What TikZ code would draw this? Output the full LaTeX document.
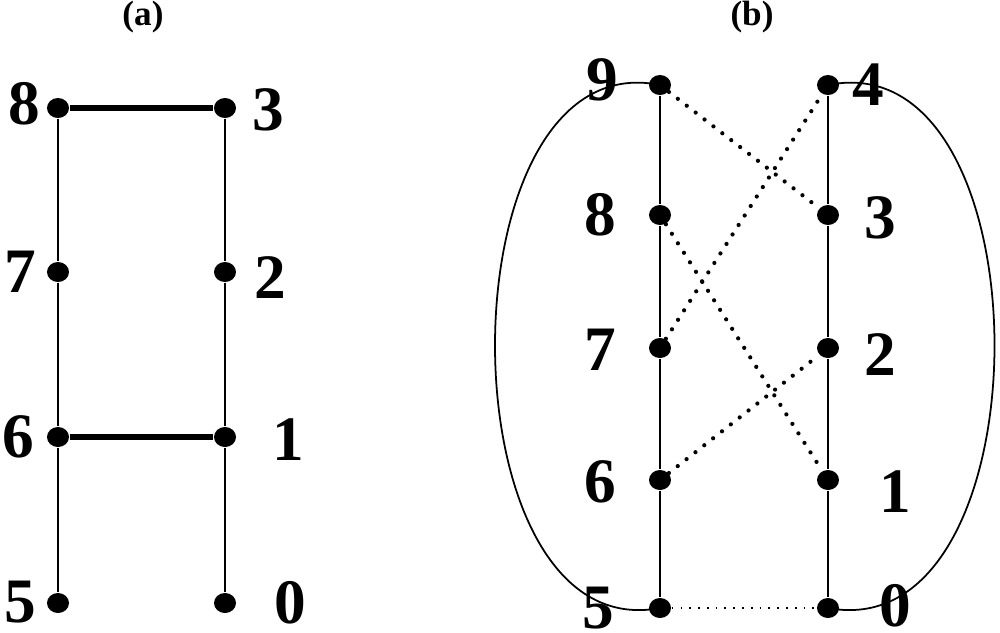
\documentclass[tikz,border=0pt]{standalone}
\usepackage{fontspec}
\usetikzlibrary{shapes.geometric}
\setmainfont{Liberation Serif}
\begin{document}
\begin{tikzpicture}[x=0.01cm,y=-0.01cm,
  dot/.style={ellipse,fill=black,inner sep=0pt,minimum width=0.22cm,minimum height=0.20cm},
  lab/.style={font=\fontsize{18}{18}\selectfont\bfseries,inner sep=0pt},
  ttl/.style={font=\fontsize{10}{10}\selectfont\bfseries,inner sep=0pt},
  thin/.style={line width=0.5pt},
  rung/.style={line width=1.6pt},
  cross/.style={line width=1.2pt,line cap=round,dash pattern=on 0pt off 3.2pt},
  fine/.style={line width=0.5pt,dotted}]
\useasboundingbox (0,0) rectangle (1000,632);
\node[ttl] (ta) at (143,17) {(a)};
\node[ttl] (tb) at (752,17) {(b)};
% (a)
\node[dot] (a8) at (58,108) {}; \node[dot] (a3) at (225,108) {};
\node[dot] (a7) at (58,272) {}; \node[dot] (a2) at (225,272) {};
\node[dot] (a6) at (58,437) {}; \node[dot] (a1) at (225,437) {};
\node[dot] (a5) at (58,603) {}; \node[dot] (a0) at (225,603) {};
\node[lab] (la8) at (24,104) {8}; \node[lab] (la3) at (268,110) {3};
\node[lab] (la7) at (20,272) {7}; \node[lab] (la2) at (270,278) {2};
\node[lab] (la6) at (18,437) {6}; \node[lab] (la1) at (288,440) {1};
\node[lab] (la5) at (20,602) {5}; \node[lab] (la0) at (290,603) {0};
\draw[thin] (a8) -- (a7) -- (a6) -- (a5);
\draw[thin] (a3) -- (a2) -- (a1) -- (a0);
\draw[rung] (a8) -- (a3);
\draw[rung] (a6) -- (a1);
% (b)
\node[dot] (b9) at (660,85) {}; \node[dot] (b4) at (828,85) {};
\node[dot] (b8) at (660,215) {}; \node[dot] (b3) at (828,215) {};
\node[dot] (b7) at (660,348) {}; \node[dot] (b2) at (828,348) {};
\node[dot] (b6) at (660,480) {}; \node[dot] (b1) at (828,480) {};
\node[dot] (b5) at (660,608) {}; \node[dot] (b0) at (828,608) {};
\node[lab] (lb9) at (602,80) {9}; \node[lab] (lb4) at (868,85) {4};
\node[lab] (lb8) at (600,215) {8}; \node[lab] (lb3) at (880,218) {3};
\node[lab] (lb7) at (600,350) {7}; \node[lab] (lb2) at (880,355) {2};
\node[lab] (lb6) at (600,482) {6}; \node[lab] (lb1) at (895,492) {1};
\node[lab] (lb5) at (598,608) {5}; \node[lab] (lb0) at (895,606) {0};
\draw[thin] (b9) -- (b8) -- (b7) -- (b6) -- (b5);
\draw[thin] (b4) -- (b3) -- (b2) -- (b1) -- (b0);
\draw[cross] (b9) -- (b3);
\draw[cross] (b8) -- (b1);
\draw[cross] (b7) -- (b4);
\draw[cross] (b6) -- (b2);
\draw[fine] (b5) -- (b0);
\draw[thin] (b9.center) .. controls (440,40) and (440,650) .. (b5.center);
\draw[thin] (b4.center) .. controls (1050,40) and (1050,650) .. (b0.center);
\end{tikzpicture}
\end{document}
